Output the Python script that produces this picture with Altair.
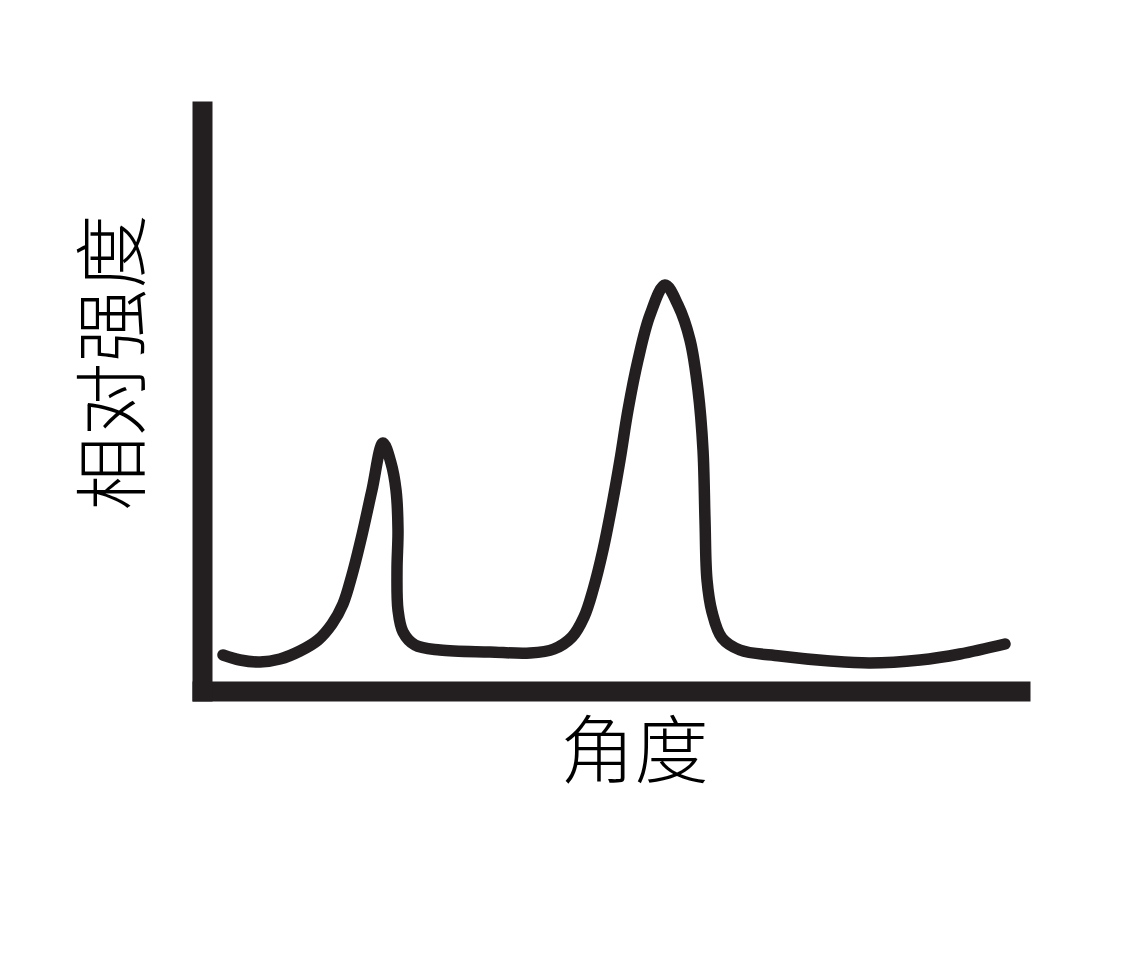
import altair as alt
import pandas as pd

# Curve (angle, relative intensity), arbitrary units
angle = [21, 38, 58, 78, 98, 116, 130, 141, 150, 160, 170, 181, 189, 194, 196, 195,
         196, 201, 213, 238, 288, 328, 352, 370, 382, 391, 401, 410, 418, 426, 436,
         448, 463, 476, 488, 496, 501, 503, 505, 510, 520, 538, 578, 628, 668, 718,
         758, 803]
intensity = [36, 31, 29, 32, 40, 51, 67, 87, 116, 156, 201, 248, 228, 201, 161, 121,
             81, 59, 46, 41, 39, 38, 42, 54, 74, 101, 141, 186, 231, 281, 331,
             376, 406, 386, 351, 301, 241, 171, 111, 79, 53, 41, 35, 30, 28, 31,
             37, 47]

df = pd.DataFrame({"angle": angle, "intensity": intensity, "order": list(range(len(angle)))})

ink = "#231f20"
font = "Noto Sans CJK SC"

chart = alt.Chart(df).mark_line(
    color=ink, strokeWidth=11.5, strokeCap="round", strokeJoin="round",
    interpolate="catmull-rom"
).encode(
    x=alt.X("angle:Q", scale=alt.Scale(domain=[0, 818], nice=False, zero=False),
            axis=alt.Axis(title="角度", titleX=432, titleY=63, titleAlign="center",
                          titleBaseline="middle", titleFontSize=74, titleFont=font,
                          titleFontWeight=300, titleColor="#000000")),
    y=alt.Y("intensity:Q", scale=alt.Scale(domain=[0, 580], nice=False, zero=False),
            axis=alt.Axis(title="相对强度", titleX=-86, titleY=251, titleAngle=270,
                          titleAlign="center", titleBaseline="middle", titleFontSize=74,
                          titleFont=font, titleFontWeight=300, titleColor="#000000")),
    order="order:Q",
).properties(
    width=818, height=580,
    autosize=alt.AutoSizeParams(type="none"),
    padding={"left": 202, "top": 111, "right": 103, "bottom": 273},
    background="#ffffff",
).configure_axis(
    domainColor=ink, domainWidth=20, domainCap="square",
    ticks=False, labels=False, grid=False,
).configure_view(stroke=None)

chart.save("out.html", embed_options={"renderer": "svg", "actions": False})
